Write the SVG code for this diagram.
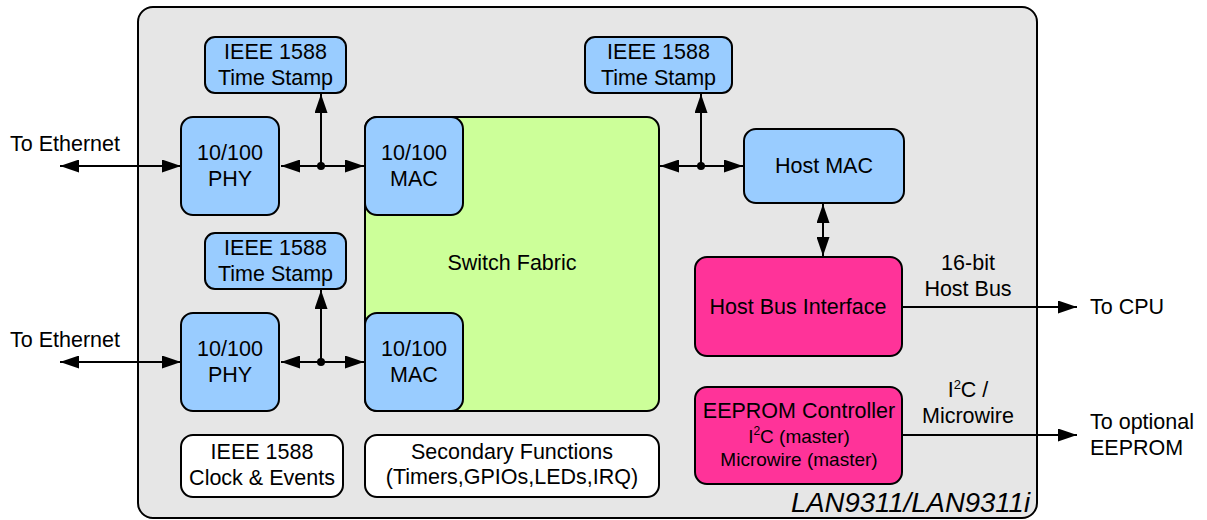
<svg xmlns="http://www.w3.org/2000/svg" width="1207" height="520" viewBox="0 0 1207 520">
<defs>
<style>
text{font-family:"Liberation Sans",Arial,sans-serif;font-size:21.5px;fill:#000}
.c{text-anchor:middle}
.box{stroke:#000;stroke-width:2}
.blue{fill:#99ccff}
.green{fill:#ccff99}
.pink{fill:#ff3399}
.white{fill:#ffffff}
.ln{stroke:#000;stroke-width:2;fill:none}
.sm{font-size:19px}
</style>
<marker id="ah" viewBox="0 0 19 13" refX="19" refY="6.5" markerWidth="19" markerHeight="13" markerUnits="userSpaceOnUse" orient="auto-start-reverse">
<path d="M0,0 L19,6.5 L0,13 z" fill="#000"/>
</marker>
</defs>
<rect width="1207" height="520" fill="#ffffff"/>
<g id="chip">
<rect x="138" y="7" width="899" height="511" rx="15" fill="#e6e6e6" stroke="#000" stroke-width="2"/>
<text x="1030" y="512" style="font-style:italic;font-size:27.5px;text-anchor:end">LAN9311/LAN9311i</text>
</g>
<g id="ts1"><rect class="box blue" x="205" y="37" width="141" height="56" rx="10"/><text class="c" x="275.5" y="59">IEEE 1588</text><text class="c" x="275.5" y="85">Time Stamp</text></g>
<g id="ts2"><rect class="box blue" x="205" y="233" width="141" height="56" rx="10"/><text class="c" x="275.5" y="255">IEEE 1588</text><text class="c" x="275.5" y="281">Time Stamp</text></g>
<g id="ts3"><rect class="box blue" x="585" y="37" width="147" height="56" rx="10"/><text class="c" x="658.5" y="59">IEEE 1588</text><text class="c" x="658.5" y="85">Time Stamp</text></g>
<g id="phy1"><rect class="box blue" x="181" y="117" width="98" height="98" rx="12"/><text class="c" x="230" y="160">10/100</text><text class="c" x="230" y="186">PHY</text></g>
<g id="phy2"><rect class="box blue" x="181" y="313" width="98" height="98" rx="12"/><text class="c" x="230" y="356">10/100</text><text class="c" x="230" y="382">PHY</text></g>
<g id="switch"><rect class="box green" x="365" y="117" width="294" height="294" rx="12"/><text class="c" x="512" y="270">Switch Fabric</text></g>
<g id="mac1"><rect class="box blue" x="365" y="117" width="98" height="98" rx="12"/><text class="c" x="414" y="160">10/100</text><text class="c" x="414" y="186">MAC</text></g>
<g id="mac2"><rect class="box blue" x="365" y="313" width="98" height="98" rx="12"/><text class="c" x="414" y="356">10/100</text><text class="c" x="414" y="382">MAC</text></g>
<g id="hostmac"><rect class="box blue" x="744" y="129" width="160" height="74" rx="12"/><text class="c" x="824" y="173">Host MAC</text></g>
<g id="hbi"><rect class="box pink" x="695" y="257" width="207" height="99" rx="12"/><text class="c" x="798" y="314">Host Bus Interface</text></g>
<g id="eeprom"><rect class="box pink" x="695" y="387" width="207" height="97" rx="12"/>
<text class="c" x="799" y="418">EEPROM Controller</text>
<text class="c sm" x="799" y="443">I<tspan font-size="12" dy="-8">2</tspan><tspan dy="8">C (master)</tspan></text>
<text class="c sm" x="799" y="466">Microwire (master)</text></g>
<g id="clock"><rect class="box white" x="181" y="435" width="162" height="62" rx="12"/><text class="c" x="262" y="459">IEEE 1588</text><text class="c" x="262" y="485">Clock &amp; Events</text></g>
<g id="secondary"><rect class="box white" x="365" y="435" width="294" height="62" rx="12"/><text class="c" x="512" y="459">Secondary Functions</text><text class="c" x="512" y="484">(Timers,GPIOs,LEDs,IRQ)</text></g>
<g id="connectors">
<line class="ln" x1="60" y1="166" x2="181" y2="166" marker-start="url(#ah)" marker-end="url(#ah)"/>
<line class="ln" x1="281" y1="166" x2="364" y2="166" marker-start="url(#ah)" marker-end="url(#ah)"/>
<line class="ln" x1="321" y1="166" x2="321" y2="94" marker-end="url(#ah)"/>
<circle cx="321" cy="166" r="4" fill="#000"/>
<line class="ln" x1="60" y1="362" x2="181" y2="362" marker-start="url(#ah)" marker-end="url(#ah)"/>
<line class="ln" x1="281" y1="362" x2="364" y2="362" marker-start="url(#ah)" marker-end="url(#ah)"/>
<line class="ln" x1="321" y1="362" x2="321" y2="290" marker-end="url(#ah)"/>
<circle cx="321" cy="362" r="4" fill="#000"/>
<line class="ln" x1="660" y1="166" x2="743" y2="166" marker-start="url(#ah)" marker-end="url(#ah)"/>
<line class="ln" x1="701" y1="166" x2="701" y2="94" marker-end="url(#ah)"/>
<circle cx="701" cy="166" r="4" fill="#000"/>
<line class="ln" x1="823" y1="204" x2="823" y2="256" marker-start="url(#ah)" marker-end="url(#ah)"/>
<line class="ln" x1="902" y1="307" x2="1077" y2="307" marker-end="url(#ah)"/>
<line class="ln" x1="902" y1="435" x2="1077" y2="435" marker-end="url(#ah)"/>
</g>
<g id="labels">
<text x="10" y="151">To Ethernet</text>
<text x="10" y="347">To Ethernet</text>
<text class="c" x="968" y="270">16-bit</text>
<text class="c" x="968" y="296">Host Bus</text>
<text x="1090" y="314">To CPU</text>
<text class="c" x="968" y="397">I<tspan font-size="13" dy="-8">2</tspan><tspan dy="8">C /</tspan></text>
<text class="c" x="968" y="423">Microwire</text>
<text x="1090" y="429">To optional</text>
<text x="1090" y="455">EEPROM</text>
</g>
</svg>
